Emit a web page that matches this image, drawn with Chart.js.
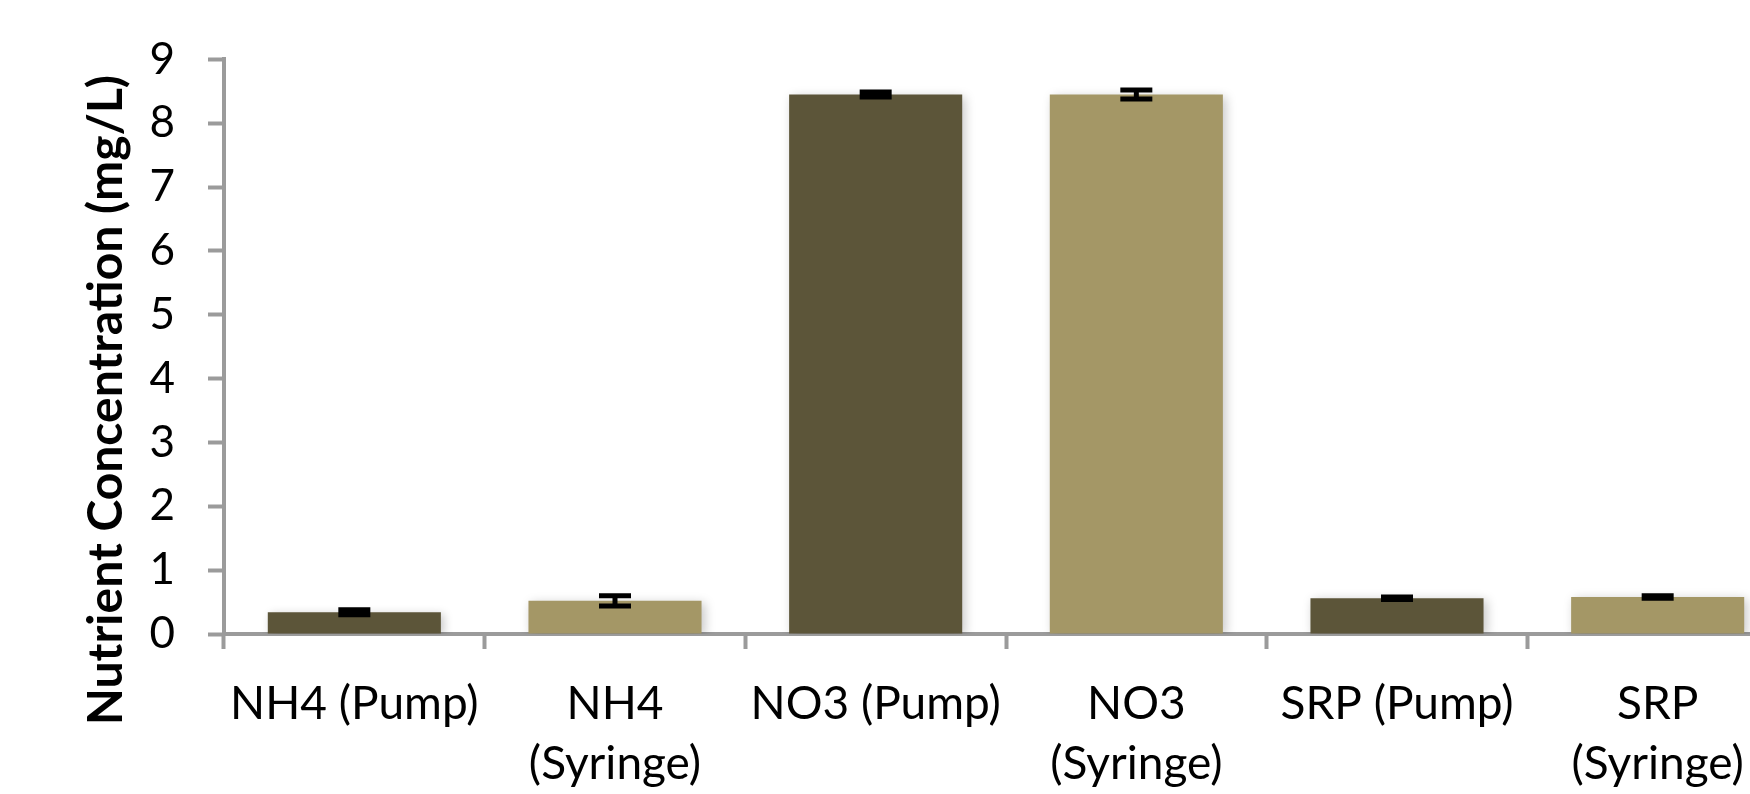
<!DOCTYPE html>
<html>
<head>
<meta charset="utf-8">
<script src="https://cdn.jsdelivr.net/npm/chart.js@4"></script>
<style>
  html, body { margin: 0; padding: 0; background: #fff; overflow: hidden; }
  #wrap { width: 1790px; height: 794px; }
</style>
</head>
<body>
<div id="wrap"><canvas id="nutrients" width="1790" height="794"></canvas></div>
<script>
// chart values
const categories = [
    'NH4 (Pump)', ['NH4', '(Syringe)'],
    'NO3 (Pump)', ['NO3', '(Syringe)'],
    'SRP (Pump)', ['SRP', '(Syringe)']
];
const concentration = [0.34, 0.52, 8.45, 8.45, 0.56, 0.58];
const stdError = [0.04, 0.08, 0.04, 0.07, 0.02, 0.02];
const yTicks = [0, 1, 2, 3, 4, 5, 6, 7, 8, 9];
const yTitle = 'Nutrient Concentration (mg/L)';

const pumpColor = '#5c5539';
const syringeColor = '#a49766';
const axisColor = '#9b9b9b';
const fontFamily = 'Lato, "Open Sans", sans-serif';

let barColors = categories.map((c, i) => i % 2 == 0 ? pumpColor : syringeColor);

// soft shadow behind the bars, like the spreadsheet look
const barShadow = {
    id: 'barShadow',
    beforeDatasetsDraw(chart) {
        let ctx = chart.ctx;
        ctx.save();
        ctx.shadowColor = 'rgba(0,0,0,0.22)';
        ctx.shadowBlur = 10;
        ctx.shadowOffsetX = 3;
        ctx.shadowOffsetY = 2;
    },
    afterDatasetsDraw(chart) {
        chart.ctx.restore();
    }
};

// error bars drawn from the stdError array
const errorBars = {
    id: 'errorBars',
    afterDatasetsDraw(chart) {
        let ctx = chart.ctx;
        let y = chart.scales.y;
        let meta = chart.getDatasetMeta(0);
        ctx.save();
        ctx.strokeStyle = '#000';
        ctx.lineWidth = 5;
        meta.data.forEach((bar, i) => {
            let top = y.getPixelForValue(concentration[i] + stdError[i]);
            let bottom = y.getPixelForValue(concentration[i] - stdError[i]);
            let half = 16;
            ctx.beginPath();
            ctx.moveTo(bar.x, top);
            ctx.lineTo(bar.x, bottom);
            ctx.moveTo(bar.x - half, top);
            ctx.lineTo(bar.x + half, top);
            ctx.moveTo(bar.x - half, bottom);
            ctx.lineTo(bar.x + half, bottom);
            ctx.stroke();
        });
        ctx.restore();
    }
};

// the y title sits lower than the axis centre in the original, so draw it here
const axisTitle = {
    id: 'axisTitle',
    afterDraw(chart) {
        let ctx = chart.ctx;
        ctx.save();
        ctx.translate(122, 400);
        ctx.rotate(-Math.PI / 2);
        ctx.font = `bold 48px ${fontFamily}`;
        ctx.fillStyle = '#000';
        ctx.textAlign = 'center';
        ctx.textBaseline = 'alphabetic';
        ctx.fillText(yTitle, 0, 0);
        ctx.restore();
    }
};

const data = {
    labels: categories,
    datasets: [{
        label: 'Nutrient Concentration',
        data: concentration,
        backgroundColor: barColors,
        borderWidth: 0,
        categoryPercentage: 0.83,
        barPercentage: 0.8
    }]
};

const config = {
    type: 'bar',
    data: data,
    plugins: [barShadow, errorBars, axisTitle],
    options: {
        responsive: false,
        animation: false,
        layout: { padding: { top: 58, right: 2, left: 0, bottom: 0 } },
        plugins: {
            legend: { display: false },
            tooltip: { enabled: false }
        },
        scales: {
            x: {
                grid: {
                    display: true,
                    offset: true,
                    drawOnChartArea: false,
                    tickLength: 15,
                    tickWidth: 4,
                    tickColor: axisColor
                },
                border: { color: axisColor, width: 4 },
                ticks: {
                    color: '#000',
                    maxRotation: 0,
                    autoSkip: false,
                    padding: 25,
                    font: { family: fontFamily, size: 46, lineHeight: 1.3 }
                },
                afterFit(scale) { scale.height = 160; }
            },
            y: {
                min: 0,
                max: 9,
                afterBuildTicks(scale) { scale.ticks = yTicks.map(v => ({ value: v })); },
                grid: {
                    display: true,
                    drawOnChartArea: false,
                    tickLength: 16,
                    tickWidth: 4,
                    tickColor: axisColor
                },
                border: { color: axisColor, width: 4 },
                ticks: {
                    color: '#000',
                    padding: 33,
                    font: { family: fontFamily, size: 44 }
                },
                afterFit(scale) { scale.width = 224; }
            }
        }
    }
};

let ctx = document.getElementById('nutrients').getContext('2d');
new Chart(ctx, config);
</script>
</body>
</html>
